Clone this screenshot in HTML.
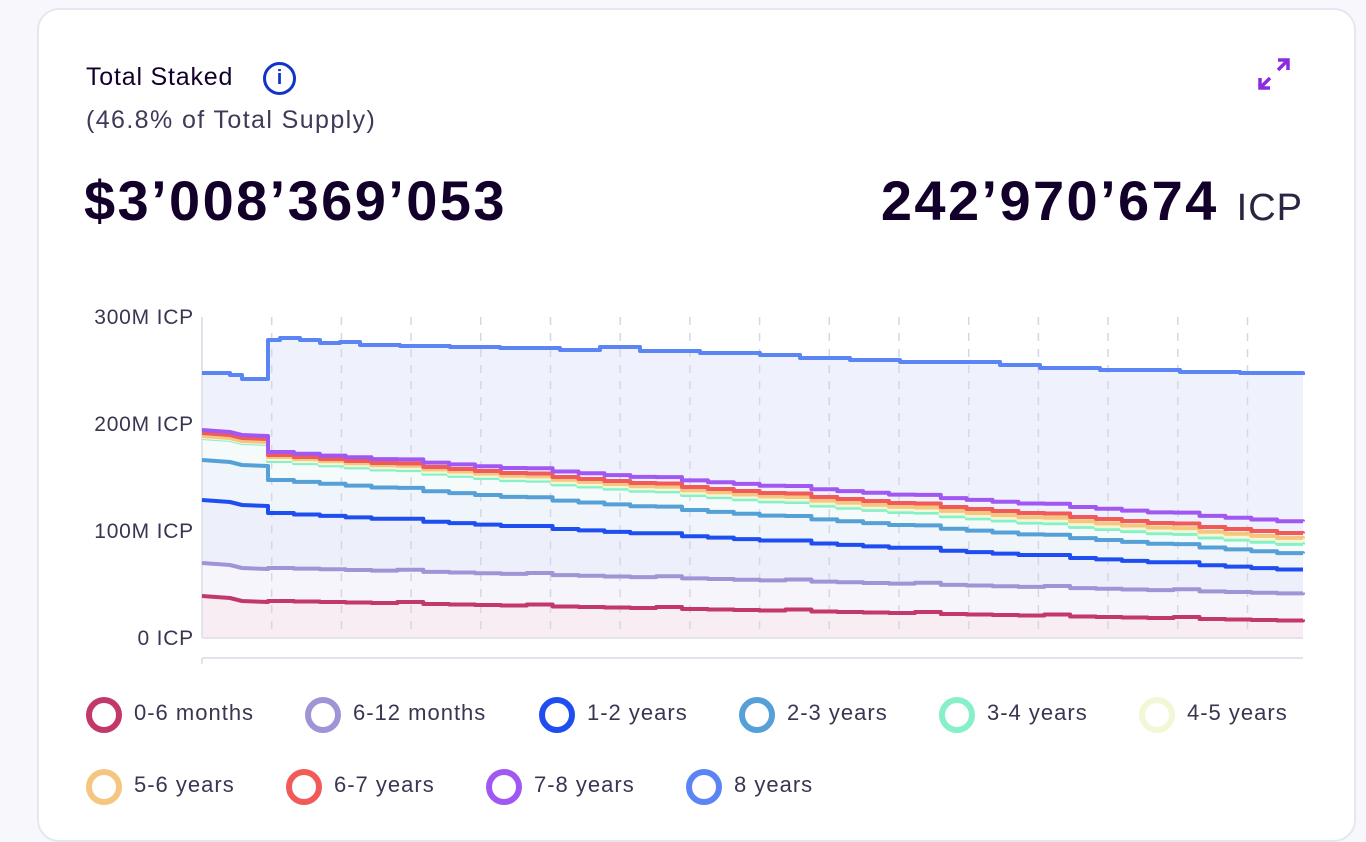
<!DOCTYPE html>
<html><head><meta charset="utf-8"><style>
body{margin:0;width:1366px;height:820px;background:#f8f8fc;font-family:"Liberation Sans",sans-serif;overflow:hidden;position:relative}
.card{position:absolute;left:37px;top:8px;width:1315px;height:830px;background:#fff;border:2px solid #e6e6f0;border-radius:22px}
.t{position:absolute;color:#12002b}
.leg{position:absolute;font-size:22px;color:#3a3550;letter-spacing:1px}
.leg i{position:absolute;left:0;top:-3px;width:24px;height:24px;border:6px solid;border-radius:50%}
.leg span{position:absolute;left:48px;top:0;white-space:nowrap}
</style></head><body>
<div class="card"></div>
<div class="t" style="left:86px;top:63px;font-size:25px;letter-spacing:0.8px">Total Staked</div>
<div style="position:absolute;left:263px;top:62px;width:27px;height:27px;border:3px solid #1235c8;border-radius:50%;color:#1235c8;font-weight:bold;font-size:20px;text-align:center;line-height:27px">i</div>
<div class="t" style="left:86px;top:106px;font-size:25px;color:#3e3a58;letter-spacing:1.4px">(46.8% of Total Supply)</div>
<svg style="position:absolute;left:1256px;top:56px" width="36" height="36" viewBox="0 0 36 36"><g stroke="#8a2be2" stroke-width="3.5" fill="none"><path d="M4 32L14 22M4 22V32H14M32 4L22 14M22 4H32V14"/></g></svg>
<div class="t" style="left:84px;top:168px;font-size:56px;font-weight:bold;letter-spacing:2.4px">$3’008’369’053</div>
<div class="t" style="right:63px;top:168px;font-size:56px;font-weight:bold;letter-spacing:2.4px;white-space:nowrap">242’970’674 <span style="font-weight:normal;font-size:38px;color:#2a2540;letter-spacing:1px">ICP</span></div>
<svg id="c" style="position:absolute;left:0;top:0" width="1366" height="820"></svg>
<div class="leg" style="left:86px;top:700px"><i style="border-color:#c2386b"></i><span>0-6 months</span></div>
<div class="leg" style="left:305px;top:700px"><i style="border-color:#9f95d6"></i><span>6-12 months</span></div>
<div class="leg" style="left:539px;top:700px"><i style="border-color:#1f4ef0"></i><span>1-2 years</span></div>
<div class="leg" style="left:739px;top:700px"><i style="border-color:#56a0d8"></i><span>2-3 years</span></div>
<div class="leg" style="left:939px;top:700px"><i style="border-color:#86f0c8"></i><span>3-4 years</span></div>
<div class="leg" style="left:1139px;top:700px"><i style="border-color:#f2f7d6"></i><span>4-5 years</span></div>
<div class="leg" style="left:86px;top:772px"><i style="border-color:#f5c67f"></i><span>5-6 years</span></div>
<div class="leg" style="left:286px;top:772px"><i style="border-color:#f25a5a"></i><span>6-7 years</span></div>
<div class="leg" style="left:486px;top:772px"><i style="border-color:#a157f2"></i><span>7-8 years</span></div>
<div class="leg" style="left:686px;top:772px"><i style="border-color:#5b84f5"></i><span>8 years</span></div>
<script>
var s='';
var labels=[['300M ICP',317],['200M ICP',424],['100M ICP',531],['0 ICP',638]];
labels.forEach(function(l){s+='<text x="194" y="'+(l[1]+7)+'" text-anchor="end" font-size="21" letter-spacing="0.8" fill="#3a3550" font-family="Liberation Sans,sans-serif">'+l[0]+'</text>';});
function gen(a,b,c){var p=[[202,a],[230,a+2],[242,a+5],[268,a+6],[268,b]];var n=40;for(var k=1;k<=n;k++){var x=268+(1303-268)*k/n;var y=b+(c-b)*k/n+((k%5==0)?-1.5:0);p.push([x,p[p.length-1][1]]);p.push([x,y]);}return p;}
var top8=[[202,373],[230,375],[242,379],[268,379],[268,340],[280,338],[300,340],[320,343],[340,342],[360,345],[400,346],[450,347],[500,348],[560,350],[600,347],[640,351],[700,353],[760,355],[800,358],[850,360],[900,362],[1000,365],[1040,368],[1100,370],[1180,372],[1240,373],[1303,375]];
var st=[];for(var k=0;k<top8.length;k++){if(k>0)st.push([top8[k][0],top8[k-1][1]]);st.push(top8[k]);}
var ser=[
[st,'#5b84f5','#eff2fd'],
[gen(430,452,523),'#a157f2',null],
[gen(433,455,535),'#f25a5a',null],
[gen(436,457,540),'#f5c67f',null],
[gen(437,459,543),'#f2f7d6',null],
[gen(438,461,546),'#86f0c8','#f4fbfa'],
[gen(460,480,555),'#56a0d8','#eff5fb'],
[gen(500,513,571),'#1f4ef0','#edf0fb'],
[gen(563,568,594),'#9f95d6','#f6f5fb'],
[gen(596,601,621),'#c2386b','#f8edf3']];
function P(q){return 'M'+q.map(function(p){return p[0].toFixed(1)+' '+p[1].toFixed(1)}).join('L');}
ser.forEach(function(q){if(q[2])s+='<path d="'+P(q[0])+'L1303 638L202 638Z" fill="'+q[2]+'"/>';});
for(var i=1;i<=15;i++){var x=202+i*69.7;s+='<line x1="'+x+'" y1="317" x2="'+x+'" y2="638" stroke="#d8d6e4" stroke-width="1.5" stroke-dasharray="8,8"/>';}
s+='<line x1="202" y1="317" x2="202" y2="638" stroke="#e4e2ec" stroke-width="2"/>';
s+='<line x1="202" y1="638" x2="1303" y2="638" stroke="#e4e2ec" stroke-width="2"/>';
s+='<line x1="202" y1="658" x2="1303" y2="658" stroke="#e4e2ec" stroke-width="2"/><line x1="202" y1="658" x2="202" y2="664" stroke="#e4e2ec" stroke-width="2"/>';
ser.slice().reverse().forEach(function(q){s+='<path d="'+P(q[0])+'" fill="none" stroke="'+q[1]+'" stroke-width="4" stroke-linejoin="round"/>';});
document.getElementById('c').innerHTML=s;
</script>
</body></html>
